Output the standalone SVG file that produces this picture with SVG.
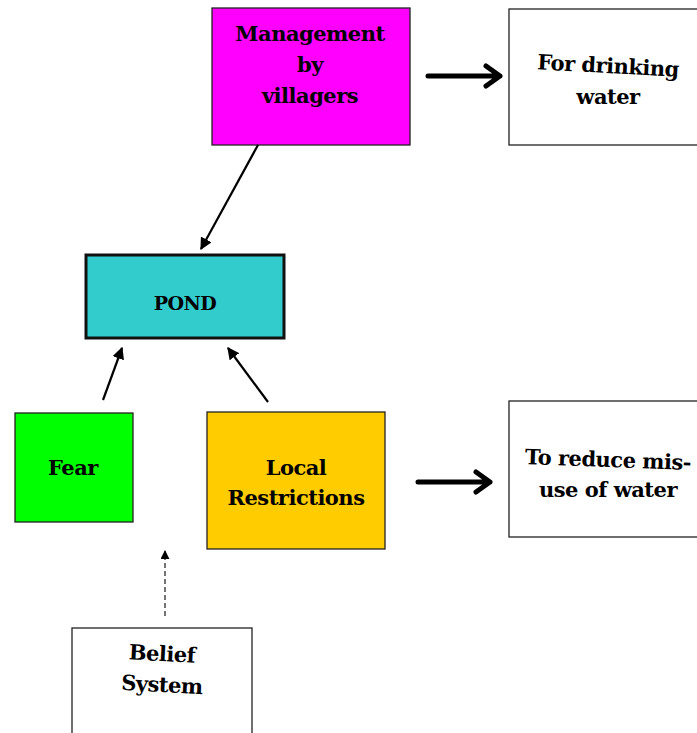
<svg xmlns="http://www.w3.org/2000/svg" width="697" height="733" viewBox="0 0 697 733">
  <style>
    .box { stroke: #222; stroke-width: 1.3; }
    .lbl { font-family: "DejaVu Serif", "Liberation Serif", serif; font-weight: bold; font-size: 21px; fill: #000; text-anchor: middle; letter-spacing: -0.5px; }
    .thin { stroke: #000; stroke-width: 2.2; fill: none; }
    .thick { stroke: #000; stroke-width: 5; fill: none; stroke-linecap: round; stroke-linejoin: round; }
  </style>
  <defs>
    <marker id="tri" viewBox="0 0 10 10" refX="9" refY="5" markerWidth="5.5" markerHeight="5.5" orient="auto">
      <path d="M0,0 L10,5 L0,10 Z" fill="#000"/>
    </marker>
    <marker id="tri-dash" viewBox="0 0 10 10" refX="9" refY="5" markerWidth="6" markerHeight="6" orient="auto">
      <path d="M0,0 L10,5 L0,10 Z" fill="#000"/>
    </marker>
  </defs>
  <rect width="697" height="733" fill="#fff"/>

  <g id="management">
    <rect class="box" x="212" y="8" width="198" height="137" fill="#FF00FF"/>
    <text class="lbl" x="310" y="41">Management</text>
    <text class="lbl" x="310" y="72">by</text>
    <text class="lbl" x="310" y="103">villagers</text>
  </g>

  <g id="drinking">
    <rect class="box" x="509" y="9" width="192" height="136" fill="#fff"/>
    <text class="lbl" x="608" y="73" transform="rotate(3 608 66)">For drinking</text>
    <text class="lbl" x="608" y="104">water</text>
  </g>

  <g id="pond">
    <rect x="86" y="255" width="198" height="83" fill="#33CCCC" stroke="#111" stroke-width="3"/>
    <text class="lbl" x="185" y="310" style="font-size:19px">POND</text>
  </g>

  <g id="fear">
    <rect class="box" x="15" y="413" width="118" height="109" fill="#00FF00"/>
    <text class="lbl" x="73" y="475">Fear</text>
  </g>

  <g id="restrictions">
    <rect class="box" x="207" y="412" width="178" height="137" fill="#FFCC00"/>
    <text class="lbl" x="296" y="475">Local</text>
    <text class="lbl" x="296" y="505">Restrictions</text>
  </g>

  <g id="misuse">
    <rect class="box" x="509" y="401" width="192" height="136" fill="#fff"/>
    <text class="lbl" x="608" y="467" transform="rotate(2 608 460)">To reduce mis-</text>
    <text class="lbl" x="608" y="497">use of water</text>
  </g>

  <g id="belief">
    <rect class="box" x="72" y="628" width="180" height="110" fill="#fff"/>
    <text class="lbl" x="162" y="661" transform="rotate(3 162 654)">Belief</text>
    <text class="lbl" x="162" y="692" transform="rotate(3 162 685)">System</text>
  </g>

  <g id="connectors">
    <path class="thick" d="M428,76 H500 M486,66 L500,76 L486,86"/>
    <path class="thick" d="M418,482 H490 M476,472 L490,482 L476,492"/>
    <line class="thin" x1="258" y1="145" x2="201" y2="249" marker-end="url(#tri)"/>
    <line class="thin" x1="103" y1="400" x2="122" y2="348" marker-end="url(#tri)"/>
    <line class="thin" x1="268" y1="402" x2="228" y2="348" marker-end="url(#tri)"/>
    <line x1="165" y1="616" x2="165" y2="551" stroke="#444" stroke-width="1.5" stroke-dasharray="5,3" marker-end="url(#tri-dash)"/>
  </g>
</svg>
